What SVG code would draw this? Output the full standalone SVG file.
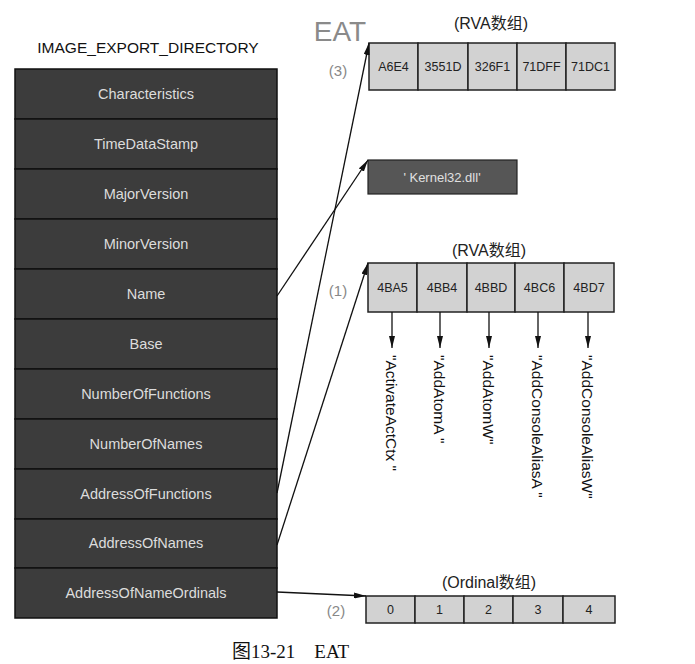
<svg xmlns="http://www.w3.org/2000/svg" width="695" height="664" viewBox="0 0 695 664">
<style>
.bg{fill:#ffffff}
.row{fill:#3c3c3c;stroke:#111;stroke-width:1.5}
.rt{font-family:"Liberation Sans",Arial,sans-serif;font-size:14.5px;fill:#dcdcdc;text-anchor:middle}
.title{font-family:"Liberation Sans",Arial,sans-serif;font-size:15.5px;fill:#111;text-anchor:middle}
.cell{fill:#d2d2d2;stroke:#222;stroke-width:1.5}
.ct{font-family:"Liberation Sans",Arial,sans-serif;font-size:12.5px;fill:#222;text-anchor:middle}
.lab{font-family:"Liberation Sans","Noto Sans CJK SC",sans-serif;font-size:16px;fill:#222;text-anchor:middle}
.num{font-family:"Liberation Sans",Arial,sans-serif;font-size:15px;fill:#888;text-anchor:middle}
.vt{font-family:"Liberation Sans",Arial,sans-serif;font-size:15.5px;fill:#111}
.ln{stroke:#111;stroke-width:1.3;fill:none}
</style>
<defs>
<marker id="ah" viewBox="0 0 12 6" refX="12" refY="3" markerWidth="12" markerHeight="6" markerUnits="userSpaceOnUse" orient="auto">
<path d="M0,0 L12,3 L0,6 Z" fill="#111"/>
</marker>
</defs>
<rect class="bg" x="0" y="0" width="695" height="664"/>

<text class="title" x="148" y="53">IMAGE_EXPORT_DIRECTORY</text>

<g id="export-directory">
<rect class="row" x="15" y="69" width="262" height="50"/>
<text class="rt" x="146" y="99">Characteristics</text>
<rect class="row" x="15" y="119" width="262" height="50"/>
<text class="rt" x="146" y="149">TimeDataStamp</text>
<rect class="row" x="15" y="169" width="262" height="50"/>
<text class="rt" x="146" y="199">MajorVersion</text>
<rect class="row" x="15" y="219" width="262" height="50"/>
<text class="rt" x="146" y="249">MinorVersion</text>
<rect class="row" x="15" y="269" width="262" height="50"/>
<text class="rt" x="146" y="299">Name</text>
<rect class="row" x="15" y="319" width="262" height="50"/>
<text class="rt" x="146" y="349">Base</text>
<rect class="row" x="15" y="369" width="262" height="50"/>
<text class="rt" x="146" y="399">NumberOfFunctions</text>
<rect class="row" x="15" y="419" width="262" height="50"/>
<text class="rt" x="146" y="449">NumberOfNames</text>
<rect class="row" x="15" y="469" width="262" height="50"/>
<text class="rt" x="146" y="499">AddressOfFunctions</text>
<rect class="row" x="15" y="519" width="262" height="49"/>
<text class="rt" x="146" y="548">AddressOfNames</text>
<rect class="row" x="15" y="568" width="262" height="50"/>
<text class="rt" x="146" y="598">AddressOfNameOrdinals</text>
</g>

<g id="eat">
<text x="340" y="41" style="font-family:'Liberation Sans',Arial,sans-serif;font-size:28px;fill:#8a8a8a;text-anchor:middle">EAT</text>
<text class="lab" x="491" y="29">(RVA数组)</text>
<text class="num" x="338" y="76">(3)</text>
<rect class="cell" x="369" y="43" width="49" height="47"/>
<rect class="cell" x="418" y="43" width="50" height="47"/>
<rect class="cell" x="468" y="43" width="49" height="47"/>
<rect class="cell" x="517" y="43" width="49" height="47"/>
<rect class="cell" x="566" y="43" width="49" height="47"/>
<text class="ct" x="393.5" y="71">A6E4</text>
<text class="ct" x="443" y="71">3551D</text>
<text class="ct" x="492.5" y="71">326F1</text>
<text class="ct" x="541.5" y="71">71DFF</text>
<text class="ct" x="590.5" y="71">71DC1</text>
</g>

<g id="kernel32">
<rect x="368" y="160" width="149" height="34" fill="#565656" stroke="#222" stroke-width="1.2"/>
<text x="442" y="182" style="font-family:'Liberation Sans',Arial,sans-serif;font-size:13px;fill:#e0e0e0;text-anchor:middle">' Kernel32.dll'</text>
</g>

<g id="ent">
<text class="lab" x="489" y="256">(RVA数组)</text>
<text class="num" x="338" y="296">(1)</text>
<rect class="cell" x="368" y="263" width="49" height="49"/>
<rect class="cell" x="417" y="263" width="50" height="49"/>
<rect class="cell" x="467" y="263" width="48" height="49"/>
<rect class="cell" x="515" y="263" width="49" height="49"/>
<rect class="cell" x="564" y="263" width="50" height="49"/>
<text class="ct" x="392.5" y="292">4BA5</text>
<text class="ct" x="442" y="292">4BB4</text>
<text class="ct" x="491" y="292">4BBD</text>
<text class="ct" x="539.5" y="292">4BC6</text>
<text class="ct" x="589" y="292">4BD7</text>
</g>

<g id="names">
<text class="vt" transform="translate(386,355) rotate(90)">"ActivateActCtx "</text>
<text class="vt" transform="translate(434,355) rotate(90)">"AddAtomA "</text>
<text class="vt" transform="translate(483,355) rotate(90)">"AddAtomW"</text>
<text class="vt" transform="translate(532,355) rotate(90)">"AddConsoleAliasA "</text>
<text class="vt" transform="translate(582,355) rotate(90)">"AddConsoleAliasW"</text>
</g>

<g id="eot">
<text class="lab" x="489" y="588">(Ordinal数组)</text>
<text class="num" x="336" y="616">(2)</text>
<rect class="cell" x="366" y="596" width="49" height="27"/>
<rect class="cell" x="415" y="596" width="49" height="27"/>
<rect class="cell" x="464" y="596" width="49" height="27"/>
<rect class="cell" x="513" y="596" width="50" height="27"/>
<rect class="cell" x="563" y="596" width="52" height="27"/>
<text class="ct" x="390.5" y="614">0</text>
<text class="ct" x="439.5" y="614">1</text>
<text class="ct" x="488.5" y="614">2</text>
<text class="ct" x="538" y="614">3</text>
<text class="ct" x="589" y="614">4</text>
</g>

<g id="connectors">
<line class="ln" x1="277" y1="296" x2="368" y2="160" marker-end="url(#ah)"/>
<line class="ln" x1="277" y1="493" x2="369" y2="43" marker-end="url(#ah)"/>
<line class="ln" x1="277" y1="545" x2="368" y2="263" marker-end="url(#ah)"/>
<line class="ln" x1="277" y1="592" x2="366" y2="596" marker-end="url(#ah)"/>
<line class="ln" x1="392" y1="312" x2="392" y2="348" marker-end="url(#ah)"/>
<line class="ln" x1="440" y1="312" x2="440" y2="348" marker-end="url(#ah)"/>
<line class="ln" x1="489" y1="312" x2="489" y2="348" marker-end="url(#ah)"/>
<line class="ln" x1="538" y1="312" x2="538" y2="348" marker-end="url(#ah)"/>
<line class="ln" x1="588" y1="312" x2="588" y2="348" marker-end="url(#ah)"/>
</g>

<text x="232" y="658" xml:space="preserve" style="font-family:'Liberation Serif','Noto Sans CJK SC',serif;font-size:19px;fill:#111;white-space:pre">图13-21    EAT</text>
</svg>
